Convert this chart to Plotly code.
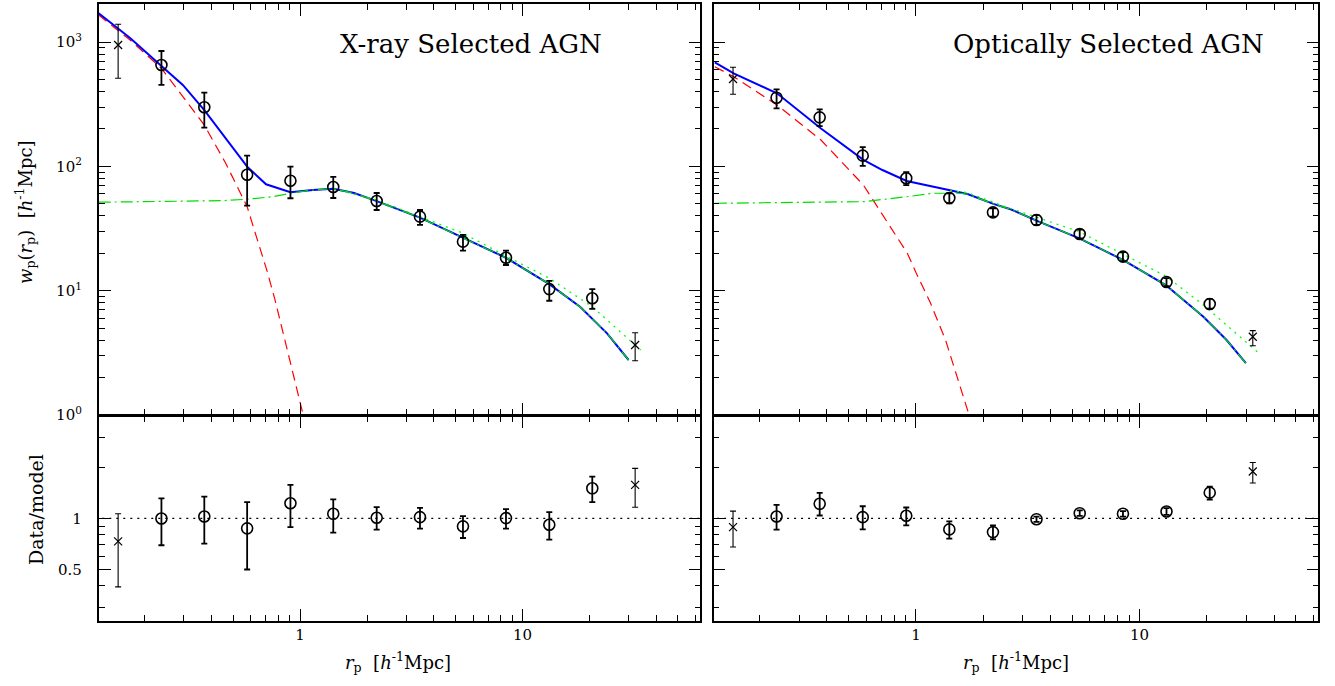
import plotly.graph_objects as go

W, H = 1335, 686

# ---------------- data ----------------
rp = [0.152, 0.238, 0.371, 0.578, 0.905, 1.41, 2.21, 3.46, 5.40, 8.43, 13.2, 20.6, 32.1]

# X-ray selected AGN: w_p and error bounds
xr_wp = [948, 654, 299, 85.7, 76.7, 68.3, 52.7, 39.4, 24.8, 18.4, 10.3, 8.69, 3.66]
xr_hi = [1390, 848, 392, 122, 99.5, 82.2, 61.1, 44.6, 28.1, 21.0, 12.0, 10.3, 4.59]
xr_lo = [512, 452, 205, 48.3, 55.4, 55.7, 44.6, 33.8, 21.0, 16.1, 8.3, 7.13, 2.73]

# Optically selected AGN
op_wp = [505, 357, 248, 122, 80.2, 55.7, 42.7, 37.0, 28.6, 18.8, 11.75, 7.82, 4.26]
op_hi = [627, 417, 288, 143, 89.7, 60.8, 46.0, 40.6, 31.0, 20.4, 12.6, 8.6, 4.77]
op_lo = [380, 293, 211, 101, 70.8, 50.5, 39.4, 33.8, 26.3, 17.3, 10.9, 7.16, 3.61]

# Data / model ratios
xr_ratio = [0.733, 1.0, 1.027, 0.874, 1.23, 1.065, 1.01, 1.018, 0.898, 1.005, 0.918, 1.506, 1.577]
xr_ratio_hi = [1.065, 1.315, 1.346, 1.247, 1.577, 1.297, 1.165, 1.155, 1.032, 1.134, 1.089, 1.763, 1.973]
xr_ratio_lo = [0.395, 0.695, 0.71, 0.5, 0.889, 0.824, 0.859, 0.87, 0.767, 0.87, 0.75, 1.247, 1.165]

op_ratio = [0.889, 1.027, 1.22, 1.018, 1.037, 0.862, 0.831, 0.99, 1.074, 1.065, 1.099, 1.42, 1.893]
op_ratio_hi = [1.104, 1.203, 1.415, 1.18, 1.16, 0.96, 0.91, 1.025, 1.115, 1.105, 1.15, 1.54, 2.14]
op_ratio_lo = [0.679, 0.859, 1.041, 0.862, 0.91, 0.76, 0.753, 0.955, 1.035, 1.025, 1.05, 1.29, 1.62]

# Model curves, X-ray panel
xr_tot_x = [0.1243, 0.172, 0.238, 0.297, 0.371, 0.463, 0.578, 0.703, 0.905, 1.14, 1.41, 1.75,
            2.21, 3.46, 5.40, 8.43, 13.2, 18.2, 24.0, 30.0]
xr_tot_y = [1706, 1080, 643, 452, 284, 168, 99.5, 71.8, 62, 64.6, 66, 61,
            52.5, 38.7, 26.5, 18.4, 11.3, 7.4, 4.54, 2.77]
xr_1h_x = [0.1243, 0.172, 0.238, 0.297, 0.371, 0.463, 0.578, 0.65, 0.708, 0.772, 0.841, 0.917, 1.017, 1.04]
xr_1h_y = [1652, 1040, 615, 364, 215, 106, 47.4, 24, 14.7, 8.4, 4.54, 2.45, 1.17, 0.95]
xr_2h_x = [0.1243, 0.2, 0.3, 0.45, 0.578, 0.75, 0.905, 1.14, 1.41, 1.75, 2.21, 3.46, 5.40,
           8.43, 13.2, 18.2, 24.0, 30.0]
xr_2h_y = [51.5, 52, 52.3, 53, 54.4, 57, 60.8, 64.6, 66, 61, 52.5, 38.7, 26.5,
           18.4, 11.3, 7.4, 4.54, 2.77]
xr_lin_x = [1.41, 2.21, 3.46, 5.40, 8.43, 13.2, 20.6, 34.0]
xr_lin_y = [66, 53.7, 39.4, 29, 19, 12.6, 7.43, 3.33]

# Model curves, optical panel
op_tot_x = [0.126, 0.153, 0.239, 0.376, 0.582, 0.708, 0.909, 1.42, 1.70, 2.22, 2.65, 3.46,
            5.38, 8.43, 13.1, 19.3, 24.5, 29.9]
op_tot_y = [688, 561, 387, 202, 113, 93.5, 76.3, 63.8, 60, 49.9, 45.2, 36.6,
            26.4, 17.7, 11.1, 6.18, 4.01, 2.61]
op_1h_x = [0.126, 0.153, 0.239, 0.376, 0.582, 0.770, 0.915, 1.0, 1.16, 1.357, 1.55, 1.72, 1.76]
op_1h_y = [634, 527, 312, 163, 70.8, 32.7, 20, 14, 8.0, 4.0, 1.91, 1.04, 0.9]
op_2h_x = [0.126, 0.3, 0.582, 0.909, 1.20, 1.53, 1.70, 2.22, 2.65, 3.46, 5.38, 8.43,
           13.1, 19.3, 24.5, 29.9]
op_2h_y = [50.5, 51, 52, 57, 60.8, 60.8, 60, 49.9, 45.2, 36.6, 26.4, 17.7,
           11.1, 6.18, 4.01, 2.61]
op_lin_x = [1.42, 1.70, 2.22, 2.39, 5.38, 8.43, 13.1, 19.3, 34.0]
op_lin_y = [63.8, 61.5, 51.5, 48.9, 29.8, 19.7, 13.1, 7.67, 3.17]

panel_titles = ["X-ray Selected AGN", "Optically Selected AGN"]
top_ticks = [1, 10, 100, 1000]
top_ticktext = ["10<sup>0</sup>", "10<sup>1</sup>", "10<sup>2</sup>", "10<sup>3</sup>"]
x_ticks = [1, 10]
x_ticktext = ["1", "10"]
x_minor = [0.2, 0.3, 0.4, 0.5, 0.6, 0.7, 0.8, 0.9, 2, 3, 4, 5, 6, 7, 8, 9, 20, 30, 40, 50, 60]
top_minor = [v * m for v in [1, 10, 100, 1000] for m in range(2, 10)]
ratio_ticks = [0.5, 1]
ratio_ticktext = ["0.5", "1"]
ratio_minor = [0.3, 0.4, 0.6, 0.7, 0.8, 0.9, 2, 3]

# ---------------- figure ----------------
FONT = "DejaVu Serif"
fig = go.Figure()

def px_x(p):
    return p / W

def px_y(p):
    return 1 - p / H

xdom_L = [px_x(98.7), px_x(700.3)]
xdom_R = [px_x(713.5), px_x(1318.3)]
ydom_T = [px_y(415.0), px_y(4.3)]
ydom_B = [px_y(620.5), px_y(416.4)]

def err(y, hi, lo, idx):
    return ([hi[i] - y[i] for i in idx], [y[i] - lo[i] for i in idx])

circ_idx = list(range(1, 12))
cross_idx = [0, 12]

def add_points(xa, ya, y, hi, lo):
    p, m = err(y, hi, lo, circ_idx)
    fig.add_trace(go.Scatter(
        x=[rp[i] for i in circ_idx], y=[y[i] for i in circ_idx], mode="markers",
        xaxis=xa, yaxis=ya, showlegend=False,
        marker=dict(symbol="circle-open", size=11, color="black", line=dict(width=1.6, color="black")),
        error_y=dict(type="data", array=p, arrayminus=m, color="black", thickness=1.8, width=3)))
    p, m = err(y, hi, lo, cross_idx)
    fig.add_trace(go.Scatter(
        x=[rp[i] for i in cross_idx], y=[y[i] for i in cross_idx], mode="markers",
        xaxis=xa, yaxis=ya, showlegend=False,
        marker=dict(symbol="x-thin-open", size=8, color="black", line=dict(width=1.2, color="black")),
        error_y=dict(type="data", array=p, arrayminus=m, color="black", thickness=1.1, width=3)))

def add_line(xa, ya, x, y, color, width, dash):
    fig.add_trace(go.Scatter(x=x, y=y, mode="lines", xaxis=xa, yaxis=ya, showlegend=False,
                             line=dict(color=color, width=width, dash=dash)))

# X-ray panel lines
add_line("x", "y", xr_1h_x, xr_1h_y, "#ff0000", 1.2, "10px,6px")
add_line("x", "y", xr_tot_x, xr_tot_y, "#0000ff", 2.0, "solid")
add_line("x", "y", xr_lin_x, xr_lin_y, "#00ff00", 1.3, "2px,5px")
add_line("x", "y", xr_2h_x, xr_2h_y, "#00dd00", 1.2, "12px,4px,2px,4px")
add_points("x", "y", xr_wp, xr_hi, xr_lo)

# Optical panel lines
add_line("x2", "y2", op_1h_x, op_1h_y, "#ff0000", 1.2, "10px,6px")
add_line("x2", "y2", op_tot_x, op_tot_y, "#0000ff", 2.0, "solid")
add_line("x2", "y2", op_lin_x, op_lin_y, "#00ff00", 1.3, "2px,5px")
add_line("x2", "y2", op_2h_x, op_2h_y, "#00dd00", 1.2, "12px,4px,2px,4px")
add_points("x2", "y2", op_wp, op_hi, op_lo)

# ratio panels
for xa, ya in [("x3", "y3"), ("x4", "y4")]:
    add_line(xa, ya, [0.12, 65], [1, 1], "black", 1.2, "2px,5px")
add_points("x3", "y3", xr_ratio, xr_ratio_hi, xr_ratio_lo)
add_points("x4", "y4", op_ratio, op_ratio_hi, op_ratio_lo)

XR = [-0.9055, 1.7995]
tickfont = dict(family=FONT, size=15, color="black")

common = dict(showline=True, linecolor="black", linewidth=1.6, mirror="allticks",
              ticks="inside", ticklen=12, tickwidth=1.3, tickcolor="black",
              tickmode="array", tickfont=tickfont, showgrid=False, zeroline=False,
              automargin=False)

def xaxis(dom, labels, anchor):
    return dict(type="log", range=XR, domain=dom, anchor=anchor,
                tickvals=x_ticks, ticktext=x_ticktext, showticklabels=labels,
                minor=dict(tickmode="array", tickvals=x_minor, ticks="inside", ticklen=6,
                           tickwidth=1.2, tickcolor="black", showgrid=False), **common)

def yaxis_top(dom, labels, anchor):
    return dict(type="log", range=[0, 3.304], domain=dom, anchor=anchor,
                tickvals=top_ticks, ticktext=top_ticktext, showticklabels=labels,
                ticklabelstandoff=12,
                minor=dict(tickmode="array", tickvals=top_minor, ticks="inside", ticklen=6,
                           tickwidth=1.2, tickcolor="black", showgrid=False), **common)

def yaxis_bot(dom, labels, anchor):
    return dict(type="log", range=[-0.602, 0.602], domain=dom, anchor=anchor,
                tickvals=ratio_ticks, ticktext=ratio_ticktext, showticklabels=labels,
                ticklabelstandoff=12,
                minor=dict(tickmode="array", tickvals=ratio_minor, ticks="inside", ticklen=6,
                           tickwidth=1.2, tickcolor="black", showgrid=False), **common)

fig.update_layout(
    width=W, height=H, margin=dict(l=0, r=0, t=0, b=0, pad=0, autoexpand=False),
    paper_bgcolor="white", plot_bgcolor="white",
    xaxis=xaxis(xdom_L, False, "y"),
    yaxis=yaxis_top(ydom_T, True, "x"),
    xaxis2=xaxis(xdom_R, False, "y2"),
    yaxis2=yaxis_top(ydom_T, False, "x2"),
    xaxis3=xaxis(xdom_L, True, "y3"),
    yaxis3=yaxis_bot(ydom_B, True, "x3"),
    xaxis4=xaxis(xdom_R, True, "y4"),
    yaxis4=yaxis_bot(ydom_B, False, "x4"),
)

ann_font = dict(family=FONT, size=26, color="black")
lab_font = dict(family=FONT, size=18, color="black")
ann = [
    dict(text=panel_titles[0], x=px_x(471), y=px_y(44)),
    dict(text=panel_titles[1], x=px_x(1108), y=px_y(44)),
]
for a in ann:
    fig.add_annotation(xref="paper", yref="paper", showarrow=False, font=ann_font,
                       xanchor="center", yanchor="middle", **a)

xtitle = "<i>r</i><sub>p</sub>  [<i>h</i><sup>-1</sup>Mpc]"
for cx in [398, 1016]:
    fig.add_annotation(xref="paper", yref="paper", showarrow=False, font=lab_font,
                       text=xtitle, x=px_x(cx), y=px_y(662), xanchor="center", yanchor="middle")

fig.add_annotation(xref="paper", yref="paper", showarrow=False, font=lab_font,
                   text="<i>w</i><sub>p</sub>(<i>r</i><sub>p</sub>)  [<i>h</i><sup>-1</sup>Mpc]",
                   x=px_x(25), y=px_y(212), textangle=-90, xanchor="center", yanchor="middle")
fig.add_annotation(xref="paper", yref="paper", showarrow=False, font=dict(family=FONT, size=19, color="black"),
                   text="Data/model", x=px_x(36), y=px_y(510), textangle=-90,
                   xanchor="center", yanchor="middle")

fig.write_html("out.html")
